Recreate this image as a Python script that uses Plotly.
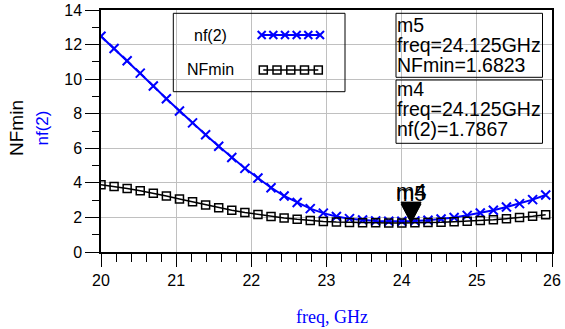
import plotly.graph_objects as go

# ---------------- data ----------------
freq = [20.000, 20.174, 20.348, 20.522, 20.696, 20.870, 21.044, 21.218, 21.392, 21.566,
        21.740, 21.914, 22.088, 22.262, 22.436, 22.610, 22.784, 22.958, 23.132, 23.306,
        23.480, 23.654, 23.828, 24.002, 24.176, 24.350, 24.524, 24.698, 24.872, 25.046,
        25.220, 25.394, 25.568, 25.742, 25.916]
nf2 = [12.48, 11.77, 11.06, 10.35, 9.60, 8.87, 8.16, 7.47, 6.78, 6.12,
       5.47, 4.84, 4.28, 3.72, 3.24, 2.86, 2.51, 2.25, 2.05, 1.93,
       1.85, 1.80, 1.78, 1.78, 1.80, 1.84, 1.91, 2.00, 2.12, 2.26,
       2.42, 2.60, 2.80, 3.03, 3.30]
nfmin = [3.89, 3.79, 3.67, 3.54, 3.40, 3.24, 3.07, 2.90, 2.72, 2.56,
         2.42, 2.29, 2.17, 2.06, 1.97, 1.89, 1.82, 1.77, 1.73, 1.71,
         1.695, 1.685, 1.68, 1.68, 1.685, 1.70, 1.72, 1.75, 1.78, 1.82,
         1.87, 1.93, 1.99, 2.07, 2.16]
x_ticks = [20, 21, 22, 23, 24, 25, 26]
y_ticks = [0, 2, 4, 6, 8, 10, 12, 14]

marker_freq = 24.125
m5_val = 1.6823   # NFmin
m4_val = 1.7867   # nf(2)

BLUE = "#0000ff"
SANS = "Liberation Sans, Arial, sans-serif"
SERIF = "Liberation Serif, Times New Roman, serif"

W, H = 565, 329
PLOT_L, PLOT_R, PLOT_T, PLOT_B = 101, 552, 10, 252   # page pixels of the plot area
L, T, R, B = PLOT_L, PLOT_T, W - PLOT_R, H - PLOT_B
PW, PH = PLOT_R - PLOT_L, PLOT_B - PLOT_T


def fx(px):
    return (px - PLOT_L) / PW


def fy(py):
    return (PLOT_B - py) / PH


fig = go.Figure()
fig.add_trace(go.Scatter(x=freq, y=nf2, mode="lines+markers", name="nf(2)",
                         line=dict(color=BLUE, width=2),
                         marker=dict(symbol="x-thin", size=9, color=BLUE,
                                     line=dict(color=BLUE, width=2)),
                         showlegend=False))
fig.add_trace(go.Scatter(x=freq, y=nfmin, mode="lines+markers", name="NFmin",
                         line=dict(color="black", width=1.5),
                         marker=dict(symbol="square-open", size=8, color="black",
                                     line=dict(color="black", width=1.5)),
                         showlegend=False))

# custom legend samples on an overlay axis (0..1 = plot area)
fig.add_trace(go.Scatter(x=[fx(261.7), fx(273.3), fx(285), fx(296.7), fx(308.3), fx(320)],
                         y=[fy(35)] * 6, xaxis="x2", yaxis="y2", mode="lines+markers",
                         line=dict(color=BLUE, width=2),
                         marker=dict(symbol="x-thin", size=8, color=BLUE,
                                     line=dict(color=BLUE, width=2)),
                         showlegend=False, hoverinfo="skip"))
fig.add_trace(go.Scatter(x=[fx(263.3), fx(277), fx(290.8), fx(304.5), fx(318.3)],
                         y=[fy(70)] * 5, xaxis="x2", yaxis="y2", mode="lines+markers",
                         line=dict(color="black", width=1.5),
                         marker=dict(symbol="square-open", size=8, color="black",
                                     line=dict(color="black", width=1.5)),
                         showlegend=False, hoverinfo="skip"))

shapes = []
# legend box
shapes.append(dict(type="rect", xref="paper", yref="paper", x0=fx(173.3), x1=fx(345),
                   y0=fy(91.7), y1=fy(13.3), line=dict(color="black", width=1)))
# marker readout boxes
shapes.append(dict(type="rect", xref="paper", yref="paper", x0=fx(396), x1=fx(542.5),
                   y0=fy(77.3), y1=fy(13.3), line=dict(color="black", width=1)))
shapes.append(dict(type="rect", xref="paper", yref="paper", x0=fx(396), x1=fx(542.5),
                   y0=fy(143.3), y1=fy(80), line=dict(color="black", width=1)))
# marker triangles (tip on the data point)
for val in (m4_val, m5_val):
    shapes.append(dict(type="path", xref="x", yref="y", xsizemode="pixel", ysizemode="pixel",
                       xanchor=marker_freq, yanchor=val,
                       path="M-10,19 L10,19 L0,0 Z", fillcolor="black",
                       line=dict(color="black", width=1)))

ann = []
ann.append(dict(text="nf(2)", x=fx(210), y=fy(35), xref="paper", yref="paper",
                xanchor="center", yanchor="middle",
                showarrow=False, font=dict(family=SANS, size=16, color="black")))
ann.append(dict(text="NFmin", x=fx(210), y=fy(70), xref="paper", yref="paper",
                xanchor="center", yanchor="middle",
                showarrow=False, font=dict(family=SANS, size=16, color="black")))

box_lines = [("m5", 25), ("freq=24.125GHz", 45), ("NFmin=1.6823", 65),
             ("m4", 88.5), ("freq=24.125GHz", 108.5), ("nf(2)=1.7867", 128.5)]
for txt, py in box_lines:
    ann.append(dict(text=txt, x=fx(395), y=fy(py), xref="paper", yref="paper",
                    xanchor="left", yanchor="middle", showarrow=False,
                    font=dict(family=SANS, size=19.5, color="black")))

for lbl, val in (("m4", m4_val), ("m5", m5_val)):
    ann.append(dict(text=lbl, x=marker_freq, y=val, xref="x", yref="y",
                    xanchor="center", yanchor="bottom", yshift=15, showarrow=False,
                    font=dict(family=SANS, size=22, color="black")))

ann.append(dict(text="NFmin<br><span style='color:#0000ff;font-size:17px'>nf(2)</span>",
                x=fx(29), y=fy(128), xref="paper", yref="paper", textangle=-90,
                xanchor="center", yanchor="middle",
                showarrow=False, font=dict(family=SANS, size=19, color="black")))
ann.append(dict(text="freq, GHz", x=fx(331.7), y=fy(317), xref="paper", yref="paper",
                xanchor="center", yanchor="middle",
                showarrow=False, font=dict(family=SERIF, size=18, color=BLUE)))

fig.update_layout(
    width=W, height=H,
    margin=dict(l=L, r=R, t=T, b=B, pad=0, autoexpand=False),
    paper_bgcolor="white", plot_bgcolor="white",
    shapes=shapes, annotations=ann, showlegend=False,
    xaxis=dict(range=[20, 26], tickvals=x_ticks, ticktext=[str(v) for v in x_ticks],
               showgrid=True, gridcolor="#c0c0c0", gridwidth=1,
               showline=True, linecolor="black", linewidth=1.5, mirror=True,
               ticks="outside", ticklen=13, tickwidth=1, tickcolor="black",
               minor=dict(dtick=0.2, ticks="outside", ticklen=8, tickcolor="black",
                          tickwidth=1, showgrid=False),
               tickfont=dict(family=SANS, size=16, color="black"),
               zeroline=False, fixedrange=True),
    yaxis=dict(range=[0, 14], tickvals=y_ticks, ticktext=[str(v) for v in y_ticks],
               showgrid=True, gridcolor="#c0c0c0", gridwidth=1,
               showline=True, linecolor="black", linewidth=1.5, mirror=True,
               ticks="outside", ticklen=14, tickwidth=1, tickcolor="black",
               minor=dict(dtick=1, ticks="outside", ticklen=7, tickcolor="black",
                          tickwidth=1, showgrid=False),
               tickfont=dict(family=SANS, size=16, color="black"),
               zeroline=False, fixedrange=True),
    xaxis2=dict(overlaying="x", range=[0, 1], visible=False, fixedrange=True),
    yaxis2=dict(overlaying="y", range=[0, 1], visible=False, fixedrange=True),
)

fig.write_html("out.html", config={"displayModeBar": False},
               post_script="document.body.style.margin='0';")
